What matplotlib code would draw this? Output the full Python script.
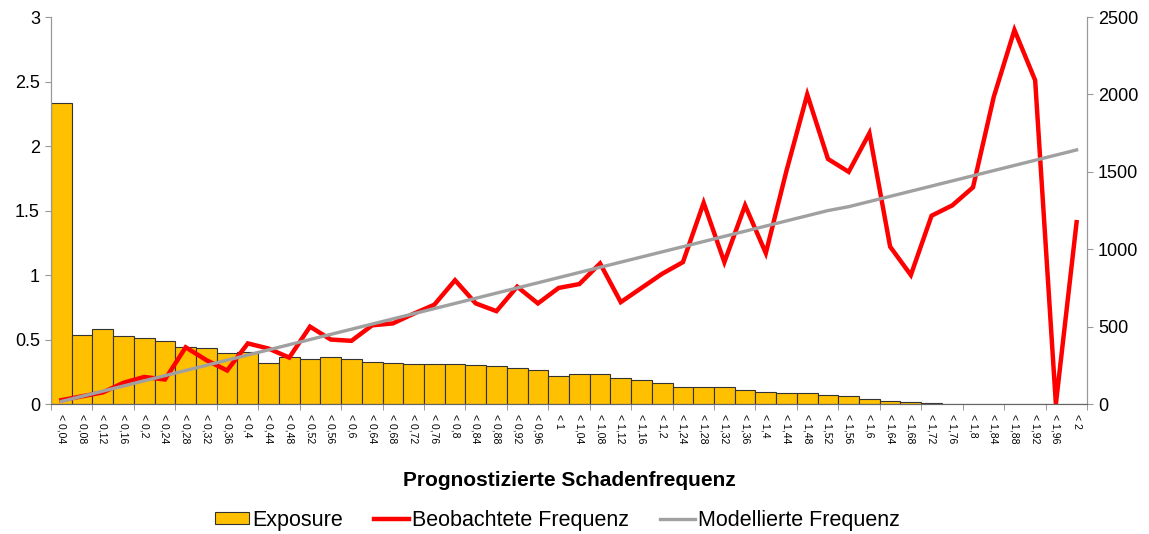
import numpy as np
import matplotlib.pyplot as plt
from matplotlib.patches import Patch
from matplotlib.lines import Line2D

plt.rcParams['font.family'] = ['Liberation Sans', 'DejaVu Sans']

categories = ['< 0,04', '< 0,08', '< 0,12', '< 0,16', '< 0,2', '< 0,24', '< 0,28', '< 0,32',
              '< 0,36', '< 0,4', '< 0,44', '< 0,48', '< 0,52', '< 0,56', '< 0,6', '< 0,64',
              '< 0,68', '< 0,72', '< 0,76', '< 0,8', '< 0,84', '< 0,88', '< 0,92', '< 0,96',
              '< 1', '< 1,04', '< 1,08', '< 1,12', '< 1,16', '< 1,2', '< 1,24', '< 1,28',
              '< 1,32', '< 1,36', '< 1,4', '< 1,44', '< 1,48', '< 1,52', '< 1,56', '< 1,6',
              '< 1,64', '< 1,68', '< 1,72', '< 1,76', '< 1,8', '< 1,84', '< 1,88', '< 1,92',
              '< 1,96', '< 2']

# Exposure (right axis)
exposure = [1943, 448, 487, 439, 424, 405, 366, 365, 331, 333,
            267, 306, 293, 302, 293, 273, 267, 258, 258, 260,
            254, 248, 233, 220, 183, 192, 192, 170, 157, 136,
            108, 108, 108, 88, 80, 73, 73, 58, 52, 32,
            19, 11, 8, 3, 2, 2, 2, 2, 2, 2]

# Beobachtete Frequenz (left axis)
observed = [0.03, 0.06, 0.09, 0.165, 0.21, 0.19, 0.44, 0.34, 0.26, 0.47,
            0.43, 0.36, 0.60, 0.50, 0.49, 0.61, 0.625, 0.70, 0.77, 0.96,
            0.78, 0.72, 0.91, 0.78, 0.90, 0.93, 1.09, 0.79, 0.90, 1.01,
            1.10, 1.56, 1.10, 1.54, 1.17, 1.81, 2.40, 1.90, 1.80, 2.10,
            1.22, 1.00, 1.46, 1.54, 1.68, 2.38, 2.90, 2.51, 0.0, 1.41]

# Modellierte Frequenz (left axis)
modelled = [0.02, 0.06, 0.10, 0.14, 0.18, 0.22, 0.26, 0.30, 0.34, 0.38,
            0.42, 0.46, 0.50, 0.54, 0.58, 0.62, 0.66, 0.70, 0.74, 0.78,
            0.82, 0.86, 0.90, 0.94, 0.98, 1.02, 1.06, 1.10, 1.14, 1.18,
            1.22, 1.26, 1.30, 1.34, 1.38, 1.42, 1.46, 1.50, 1.53, 1.57,
            1.61, 1.65, 1.69, 1.73, 1.77, 1.81, 1.85, 1.89, 1.93, 1.97]

x = np.arange(len(categories))

fig = plt.figure(figsize=(11.49, 5.34), dpi=100)
ax = fig.add_axes([0.0444, 0.2434, 0.9016, 0.7246])
ax2 = ax.twinx()

ax2.bar(x, exposure, width=1.0, color='#FFC000', edgecolor='#333333', linewidth=0.8)
ax.plot(x, observed, color='#FF0000', linewidth=3.2, solid_joinstyle='miter')
ax.plot(x, modelled, color='#A0A0A0', linewidth=2.4)

ax.set_zorder(ax2.get_zorder() + 1)
ax.patch.set_visible(False)

ax.set_xlim(-0.5, len(categories) - 0.5)
ax.set_ylim(0, 3)
ax2.set_ylim(0, 2500)
ax.set_yticks([0, 0.5, 1, 1.5, 2, 2.5, 3])
ax.set_yticklabels(['0', '0.5', '1', '1.5', '2', '2.5', '3'])
ax2.set_yticks([0, 500, 1000, 1500, 2000, 2500])

ax.set_xticks(x)
ax.set_xticklabels(categories, rotation=-90, fontsize=7.5, va='top', ha='center')
ax.tick_params(axis='x', length=0, pad=7)
ax.set_xticks(np.arange(-0.5, len(categories), 2), minor=True)
ax.tick_params(axis='x', which='minor', length=4, color='#888888')

for a in (ax, ax2):
    a.spines['top'].set_visible(False)
    for s in ('left', 'right', 'bottom'):
        a.spines[s].set_color('#999999')
ax.tick_params(axis='y', labelsize=13, length=4, color='#999999', pad=4)
ax2.tick_params(axis='y', labelsize=13, length=4, color='#999999', pad=4)
ax.spines['bottom'].set_color('#666666')

ax.set_xlabel('Prognostizierte Schadenfrequenz', fontsize=15, fontweight='bold', labelpad=20)

handles = [Patch(facecolor='#FFC000', edgecolor='#333333', linewidth=0.8),
           Line2D([], [], color='#FF0000', linewidth=3.2),
           Line2D([], [], color='#A0A0A0', linewidth=2.4)]
fig.legend(handles, ['Exposure', 'Beobachtete Frequenz', 'Modellierte Frequenz'],
           loc='center', bbox_to_anchor=(0.485, 0.026), ncol=3, frameon=False,
           fontsize=15.5, handlelength=1.6, handletextpad=0.15, columnspacing=1.45,
           handleheight=0.55, borderaxespad=0, borderpad=0)

fig.savefig('out.png', dpi=100)
